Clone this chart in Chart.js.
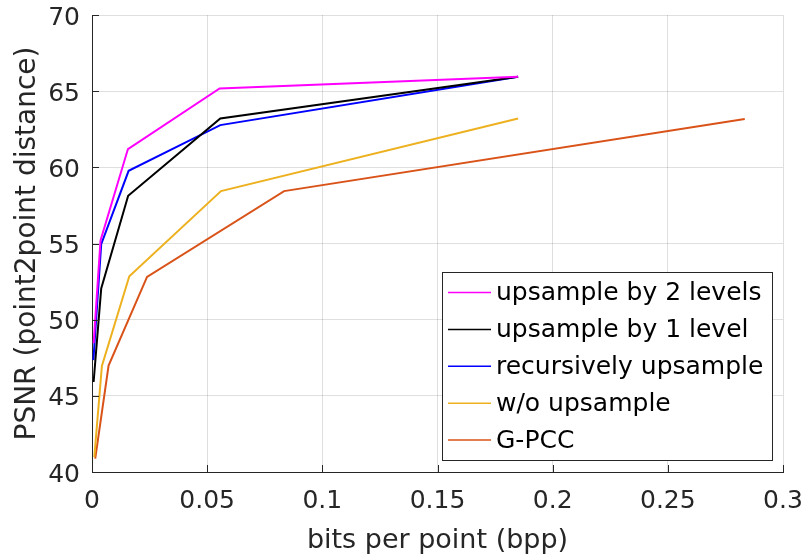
<!DOCTYPE html>
<html>
<head>
<meta charset="utf-8">
<script src="https://cdn.jsdelivr.net/npm/chart.js@4/dist/chart.umd.min.js"></script>
<style>
html,body{margin:0;padding:0;background:#fff;}
#wrap{width:806px;height:558px;position:relative;}
</style>
</head>
<body>
<div id="wrap"><canvas id="c" width="806" height="558"></canvas></div>
<script>
// ---- data ----
const seriesNames = ['upsample by 2 levels','upsample by 1 level','recursively upsample','w/o upsample','G-PCC'];
const up2X = [0.0007, 0.0037, 0.0156, 0.0554, 0.185];
const up2Y = [48.45, 55.2, 61.2, 65.18, 65.95];
const up1X = [0.0007, 0.004, 0.0157, 0.0557, 0.185];
const up1Y = [45.91, 52.05, 58.13, 63.21, 65.95];
const recX = [0.0006, 0.004, 0.0159, 0.0557, 0.185];
const recY = [47.34, 54.96, 59.77, 62.77, 65.95];
const woX  = [0.001, 0.0043, 0.0162, 0.056, 0.185];
const woY  = [40.98, 46.96, 52.85, 58.44, 63.21];
const gpccX = [0.0014, 0.0072, 0.0239, 0.0834, 0.2834];
const gpccY = [40.88, 46.99, 52.81, 58.44, 63.17];
const xTickValues = [0, 0.05, 0.1, 0.15, 0.2, 0.25, 0.3];
const xTickLabels = ['0','0.05','0.1','0.15','0.2','0.25','0.3'];
const yTickValues = [40, 45, 50, 55, 60, 65, 70];
const yTickLabels = ['40','45','50','55','60','65','70'];
const colors = ['#FF00FF','#000000','#0000FF','#EDB120','#D95319'];

function pts(xs, ys){ return xs.map((x,i)=>({x:x, y:ys[i]})); }
const allX = [up2X, up1X, recX, woX, gpccX];
const allY = [up2Y, up1Y, recY, woY, gpccY];

const datasets = seriesNames.map((name,i)=>({
  label: name,
  data: pts(allX[i], allY[i]),
  borderColor: colors[i],
  backgroundColor: colors[i],
  borderWidth: 2,
  pointRadius: 0,
  showLine: true,
  tension: 0,
  fill: false
}));

const FONT = 'DejaVu Sans';
const AXIS = '#262626';

const decor = {
  id: 'decor',
  afterDraw(chart){
    const ctx = chart.ctx;
    const a = chart.chartArea;
    const xs = chart.scales.x, ys = chart.scales.y;
    ctx.save();
    ctx.strokeStyle = AXIS;
    ctx.lineWidth = 1;
    ctx.beginPath();
    xTickValues.forEach(v=>{
      const px = Math.round(xs.getPixelForValue(v)) + 0.5;
      ctx.moveTo(px, a.bottom); ctx.lineTo(px, a.bottom - 7);
    });
    yTickValues.forEach(v=>{
      const py = Math.round(ys.getPixelForValue(v)) + 0.5;
      ctx.moveTo(a.left, py); ctx.lineTo(a.left + 7, py);
    });
    ctx.stroke();

    // legend
    const bx = 442.5, by = 272.5, bw = 330, bh = 188;
    ctx.fillStyle = '#fff';
    ctx.fillRect(bx, by, bw, bh);
    ctx.strokeStyle = AXIS;
    ctx.strokeRect(bx, by, bw, bh);
    const rowY0 = 292.5, rowDy = 36.9;
    ctx.font = '25px "' + FONT + '"';
    ctx.textBaseline = 'middle';
    ctx.textAlign = 'left';
    chart.data.datasets.forEach((ds,i)=>{
      const y = rowY0 + i*rowDy;
      ctx.strokeStyle = ds.borderColor;
      ctx.lineWidth = 1.5;
      ctx.beginPath();
      ctx.moveTo(448, y); ctx.lineTo(491, y);
      ctx.stroke();
      ctx.fillStyle = '#000';
      ctx.fillText(ds.label, 496, y + 1);
    });
    ctx.restore();
  }
};

new Chart(document.getElementById('c'), {
  type: 'scatter',
  data: { datasets },
  plugins: [decor],
  options: {
    responsive: false,
    animation: false,
    events: [],
    layout: { padding: { top: 15, right: 23, bottom: 0, left: 0 } },
    plugins: { legend: { display: false }, tooltip: { enabled: false }, title: { display: false } },
    scales: {
      x: {
        type: 'linear', min: 0, max: 0.3,
        afterBuildTicks(s){ s.ticks = xTickValues.map(v=>({value:v})); },
        afterFit(s){ s.height = 86; s.paddingLeft = 0; s.paddingRight = 0; },
        ticks: {
          color: AXIS, font: { family: FONT, size: 25 }, padding: 14,
          maxRotation: 0, autoSkip: false,
          callback: (v, i) => xTickLabels[i]
        },
        grid: { color: 'rgba(38,38,38,0.15)', lineWidth: 1, drawTicks: false },
        border: { display: true, color: AXIS, width: 1 },
        title: { display: true, text: 'bits per point (bpp)', color: AXIS,
                 font: { family: FONT, size: 27 }, padding: { top: 0, bottom: 1 } }
      },
      y: {
        type: 'linear', min: 40, max: 70,
        afterBuildTicks(s){ s.ticks = yTickValues.map(v=>({value:v})); },
        afterFit(s){ s.width = 92; s.paddingTop = 0; s.paddingBottom = 0; },
        ticks: {
          color: AXIS, font: { family: FONT, size: 25 }, padding: 12,
          labelOffset: 3, autoSkip: false,
          callback: (v, i) => yTickLabels[i]
        },
        grid: { color: 'rgba(38,38,38,0.15)', lineWidth: 1, drawTicks: false },
        border: { display: true, color: AXIS, width: 1 },
        title: { display: true, text: 'PSNR (point2point distance)', color: AXIS,
                 font: { family: FONT, size: 28 }, padding: { top: 11, bottom: 0 } }
      }
    }
  }
});
</script>
</body>
</html>
